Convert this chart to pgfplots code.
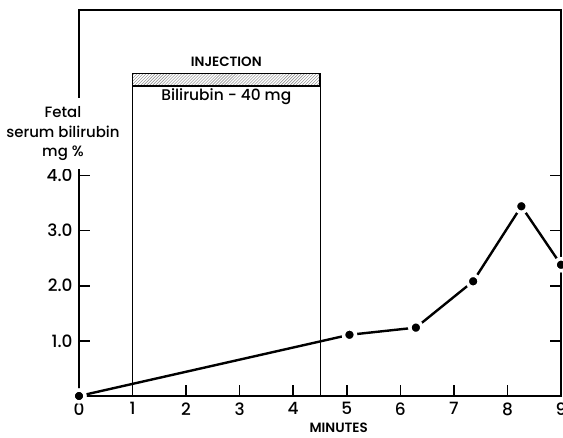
\documentclass[border=0pt]{standalone}
\usepackage{fontspec}
\setmainfont{Poppins}[UprightFont=* Medium, BoldFont=* SemiBold]
\usepackage{pgfplots}
\pgfplotsset{compat=1.18}
\usetikzlibrary{patterns}
\begin{document}
\begin{tikzpicture}
\begin{axis}[
  scale only axis, width=482bp, height=386bp,
  xmin=0, xmax=9, ymin=0, ymax=7,
  axis line style={line width=1.6bp},
  xtick={0,1,...,9},
  ytick={1,2,3,4}, yticklabels={1.0,2.0,3.0,4.0},
  xtick pos=bottom, ytick pos=both, yticklabel pos=left,
  tick align=inside, major tick length=11bp,
  tick style={line width=1.6bp, black},
  ticklabel style={font=\fontsize{17}{19}\selectfont},
  xticklabel style={yshift=-3bp},
  yticklabel style={xshift=-3bp},
  /pgf/number format/assume math mode=true,
  clip=false,
]
\draw[line width=0.8bp] (axis cs:1,0) -- (axis cs:1,5.62);
\draw[line width=0.8bp] (axis cs:4.5,0) -- (axis cs:4.5,5.62);
\draw[line width=1.6bp, pattern=north east lines, pattern color=gray] (axis cs:1,5.62) rectangle (axis cs:4.5,5.85);
\node[anchor=base, font=\bfseries\fontsize{13.5}{15}\selectfont] at (axis cs:2.75,5.97) {INJECTION};
\node[anchor=base, font=\fontsize{15.5}{18}\selectfont] at (axis cs:2.75,5.35) {Bilirubin - 40 mg};
\node[anchor=base, font=\bfseries\fontsize{13.5}{15}\selectfont] at (axis cs:4.85,-0.66) {MINUTES};
\addplot[line width=2.4bp, black, mark=*, mark size=6bp,
  mark options={fill=black, draw=white, line width=3.6bp}]
  coordinates {(0,0) (5.05,1.11) (6.29,1.24) (7.36,2.08) (8.26,3.44) (9,2.38)};
\coordinate (ylab) at (axis cs:-0.3,4.76);
\end{axis}
\node[fill=white, align=center, font=\fontsize{15}{20}\selectfont, inner xsep=1bp, inner ysep=8bp] at (ylab) {Fetal\\serum bilirubin\\mg \%};
\pgfresetboundingbox
\path[use as bounding box] ([shift={(-79bp,-42bp)}]current axis.south west) rectangle ([shift={(2bp,10bp)}]current axis.north east);
\end{tikzpicture}
\end{document}
